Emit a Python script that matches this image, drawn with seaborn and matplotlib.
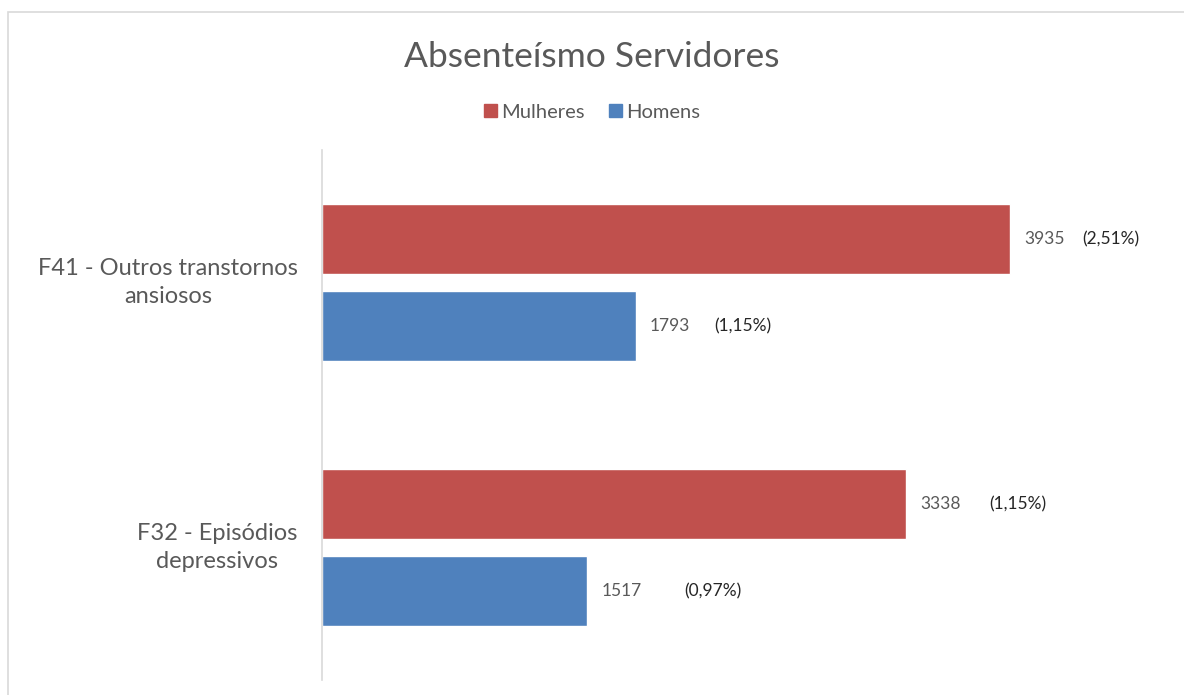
import matplotlib
matplotlib.use("Agg")
import matplotlib.pyplot as plt
import seaborn as sns
import pandas as pd
from matplotlib.patches import Rectangle

categories = ["F41 - Outros transtornos\nansiosos", "F32 - Episódios\ndepressivos"]
series = ["Mulheres", "Homens"]
mulheres = [3935, 3338]
homens = [1793, 1517]
pct_mulheres = ["(2,51%)", "(1,15%)"]
pct_homens = ["(1,15%)", "(0,97%)"]
title = "Absenteísmo Servidores"

colors = {"Mulheres": "#C0504D", "Homens": "#4F81BD"}

rows = []
for i, c in enumerate(categories):
    rows.append({"cat": c, "serie": "Mulheres", "val": mulheres[i], "pct": pct_mulheres[i]})
    rows.append({"cat": c, "serie": "Homens", "val": homens[i], "pct": pct_homens[i]})
df = pd.DataFrame(rows)

sns.set_theme(style="white")
plt.rcParams["font.family"] = ["Lato", "DejaVu Sans"]

fig = plt.figure(figsize=(11.84, 6.95), dpi=100)
ax = fig.add_axes([0.272, 0.0216, 0.712, 0.7626])

sns.barplot(data=df, y="cat", x="val", hue="serie", order=categories,
            hue_order=series, palette=colors, orient="h", width=0.656,
            gap=0.2, ax=ax, legend=True, saturation=1)

ax.set_xlim(0, 4820)
ax.set_ylim(1.5, -0.5)
ax.set_xlabel("")
ax.set_ylabel("")
ax.set_xticks([])
ax.set_yticklabels([])
ax.tick_params(axis="y", length=0)
for s in ["top", "right", "bottom"]:
    ax.spines[s].set_visible(False)
ax.spines["left"].set_color("#D9D9D9")
ax.spines["left"].set_linewidth(1.2)

# category labels (centered blocks)
label_offsets = [-154, -105]
for i, c in enumerate(categories):
    ax.annotate(c, (0, i), xytext=(label_offsets[i], 0), textcoords="offset pixels",
                ha="center", va="center", multialignment="center",
                fontsize=17, color="#595959", linespacing=1.4)

# value labels
pct_offsets = {"Mulheres": [72, 83], "Homens": [79, 97]}
for cont, serie in zip(ax.containers, series):
    vals = mulheres if serie == "Mulheres" else homens
    pcts = pct_mulheres if serie == "Mulheres" else pct_homens
    for j, bar in enumerate(cont):
        yc = bar.get_y() + bar.get_height() / 2
        w = bar.get_width()
        ax.annotate(str(vals[j]), (w, yc), xytext=(14, 0), textcoords="offset pixels",
                    ha="left", va="center", fontsize=12.5, color="#595959")
        ax.annotate(pcts[j], (w, yc), xytext=(pct_offsets[serie][j], 0),
                    textcoords="offset pixels", ha="left", va="center",
                    fontsize=12.5, color="#262626")

# legend
leg = ax.get_legend()
if leg is not None:
    leg.remove()
handles = [Rectangle((0, 0), 1, 1, color=colors[s]) for s in series]
fig.legend(handles, series, loc="center", bbox_to_anchor=(0.5, 1 - 112 / 695),
           ncol=2, frameon=False, fontsize=14.5, handlelength=0.65, handleheight=0.65,
           handletextpad=0.2, columnspacing=1.2, labelcolor="#595959")

fig.text(0.5, 1 - 57 / 695, title, ha="center", va="center", fontsize=25.5, color="#595959")

# outer border
fig.add_artist(Rectangle((8 / 1184, -0.05), 1.1, 1 - 12 / 695 + 0.05,
                         transform=fig.transFigure, fill=False,
                         edgecolor="#D9D9D9", linewidth=1.2))

fig.savefig("out.png", dpi=100)
